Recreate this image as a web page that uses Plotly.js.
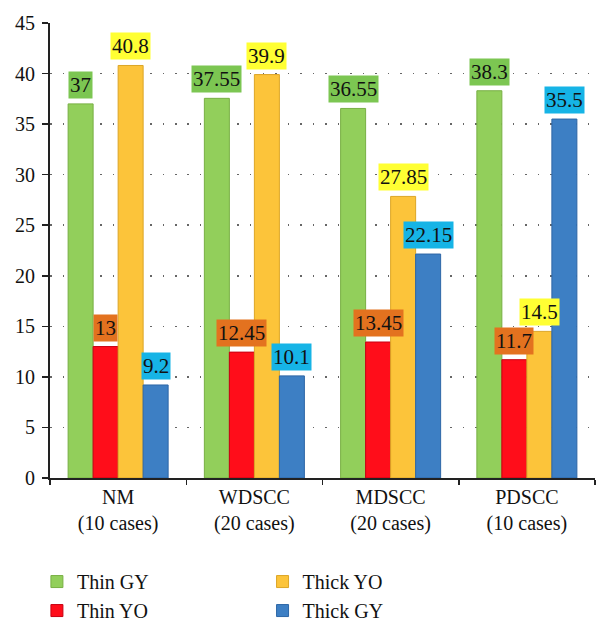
<!DOCTYPE html>
<html>
<head>
<meta charset="utf-8">
<script src="https://cdn.plot.ly/plotly-3.0.1.min.js"></script>
<style>html,body{margin:0;padding:0;background:#fff;}#chart{width:610px;height:628px;}</style>
</head>
<body>
<div id="chart"></div>
<script>
const categories = ["NM<br>(10 cases)", "WDSCC<br>(20 cases)", "MDSCC<br>(20 cases)", "PDSCC<br>(10 cases)"];
const seriesNames = ["Thin GY", "Thin YO", "Thick YO", "Thick GY"];
const thinGY = [37, 37.55, 36.55, 38.3];
const thinYO = [13, 12.45, 13.45, 11.7];
const thickYO = [40.8, 39.9, 27.85, 14.5];
const thickGY = [9.2, 10.1, 22.15, 35.5];
const labelTexts = [
  ["37", "37.55", "36.55", "38.3"],
  ["13", "12.45", "13.45", "11.7"],
  ["40.8", "39.9", "27.85", "14.5"],
  ["9.2", "10.1", "22.15", "35.5"]
];
const yTicks = [0, 5, 10, 15, 20, 25, 30, 35, 40, 45];

const allValues = [thinGY, thinYO, thickYO, thickGY];
const barColors = ["#92cf5b", "#ff0d1a", "#fcc43a", "#3d7fc4"];
const lineColors = ["#78b044", "#c80012", "#dca526", "#2d66a6"];
const labelBg = ["#7cc652", "#e3721f", "#ffff33", "#16b4e6"];
const legendIds = ["legend", "legend", "legend2", "legend2"];
const FONT = "Liberation Serif, Times New Roman, serif";

const bargap = 0.266;
const barW = (1 - bargap) / 4;

const traces = seriesNames.map((name, s) => ({
  type: "bar",
  name: name,
  x: categories,
  y: allValues[s],
  marker: { color: barColors[s], line: { color: lineColors[s], width: 1 } },
  legend: legendIds[s],
  hoverinfo: "x+y+name"
}));

const annotations = [];
allValues.forEach((vals, s) => {
  vals.forEach((v, c) => {
    annotations.push({
      x: c + (s - 1.5) * barW,
      y: v,
      xref: "x",
      yref: "y",
      text: labelTexts[s][c],
      showarrow: false,
      yanchor: "bottom",
      yshift: 5,
      bgcolor: labelBg[s],
      borderpad: 1,
      font: { family: FONT, size: 21, color: "#111" }
    });
  });
});

const layout = {
  width: 610,
  height: 628,
  margin: { l: 50, r: 15, t: 23, b: 150 },
  paper_bgcolor: "#fff",
  plot_bgcolor: "#fff",
  barmode: "group",
  bargap: bargap,
  bargroupgap: 0,
  showlegend: true,
  font: { family: FONT, size: 20, color: "#111" },
  xaxis: {
    type: "category",
    showline: true,
    linecolor: "#222",
    linewidth: 2,
    ticks: "outside",
    tickson: "boundaries",
    ticklen: 5,
    tickcolor: "#222",
    tickwidth: 1.5,
    showgrid: false,
    tickfont: { family: FONT, size: 20, color: "#111" },
    fixedrange: true
  },
  yaxis: {
    range: [0, 45],
    tickvals: yTicks,
    ticktext: yTicks.map(String),
    showline: true,
    linecolor: "#222",
    linewidth: 2,
    ticks: "outside",
    ticklen: 6,
    tickcolor: "#222",
    tickwidth: 1.5,
    ticklabelstandoff: 3,
    showgrid: true,
    gridcolor: "#666",
    gridwidth: 1.5,
    griddash: "1.5px,11px",
    zeroline: false,
    tickfont: { family: FONT, size: 20, color: "#111" },
    fixedrange: true
  },
  legend: {
    x: -0.024, xanchor: "left",
    y: 0.105, yref: "container", yanchor: "top",
    orientation: "v",
    bgcolor: "rgba(0,0,0,0)",
    font: { family: FONT, size: 20, color: "#111" },
    tracegroupgap: 0
  },
  legend2: {
    x: 0.39, xanchor: "left",
    y: 0.105, yref: "container", yanchor: "top",
    orientation: "v",
    bgcolor: "rgba(0,0,0,0)",
    font: { family: FONT, size: 20, color: "#111" },
    tracegroupgap: 0
  },
  annotations: annotations
};

Plotly.newPlot("chart", traces, layout, { displayModeBar: false, staticPlot: true });
</script>
</body>
</html>
